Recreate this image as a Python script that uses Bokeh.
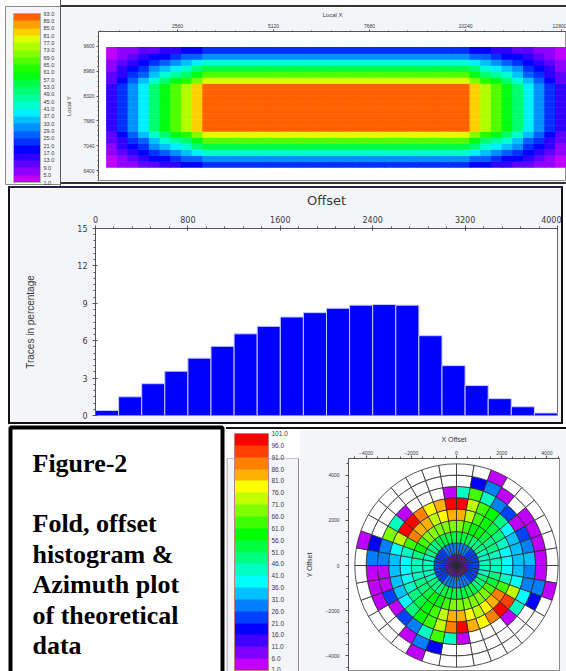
import math
from bokeh.plotting import figure
from bokeh.models import (Range1d, FixedTicker, ColorBar, LinearColorMapper,
                          PrintfTickFormatter, Div, ColumnDataSource, AllLabels)
from bokeh.layouts import row, column
from bokeh.embed import file_html
from bokeh.resources import INLINE
from bokeh.core.properties import value

# ---------------- data ----------------
# Fold map (top panel)
fold_ticks = [1.0, 5.0, 9.0, 13.0, 17.0, 21.0, 25.0, 29.0, 33.0, 37.0, 41.0, 45.0,
              49.0, 53.0, 57.0, 61.0, 65.0, 69.0, 73.0, 77.0, 81.0, 85.0, 89.0, 93.0]
fold_palette = ["#c000ff", "#9000ff", "#6000ff", "#3000ff", "#0000ff", "#0030ff",
                "#0060ff", "#0090ff", "#00c0ff", "#00f0ff", "#00ffd0", "#00ffa0",
                "#00ff70", "#00ff40", "#00ff10", "#20ff00", "#50ff00", "#80ff00",
                "#b0ff00", "#e0ff00", "#ffd000", "#ffa000", "#ff6000"]
fold_max = 93.0
inline_taper_pct = [15, 24, 33, 43, 53, 63, 72, 80, 89] + [100] * 25 + [89, 80, 72, 63, 53, 43, 33, 24, 15]
xline_taper_pct = [25, 35, 47, 60, 71, 86] + [100] * 8 + [86, 71, 60, 47, 35, 25]
local_x_ticks = [2560, 5120, 7680, 10240, 12800]
local_y_ticks = [6400, 7040, 7680, 8320, 8960, 9600]

# Offset histogram (middle panel)
offset_bin_start = [0, 200, 400, 600, 800, 1000, 1200, 1400, 1600, 1800,
                    2000, 2200, 2400, 2600, 2800, 3000, 3200, 3400, 3600, 3800]
traces_pct = [0.4, 1.5, 2.55, 3.55, 4.6, 5.55, 6.55, 7.15, 7.9, 8.25,
              8.6, 8.85, 8.9, 8.85, 6.4, 4.0, 2.4, 1.35, 0.7, 0.2]
offset_ticks = [0, 800, 1600, 2400, 3200, 4000]
pct_ticks = [0, 3, 6, 9, 12, 15]

# Azimuth (rose) plot (bottom right)
az_ticks = [1.0, 6.0, 11.0, 16.0, 21.0, 26.0, 31.0, 36.0, 41.0, 46.0, 51.0,
            56.0, 61.0, 66.0, 71.0, 76.0, 81.0, 86.0, 91.0, 96.0, 101.0]
az_palette = ["#c000ff", "#8000ff", "#4000ff", "#0000ff", "#0040ff", "#0080ff",
              "#00c0ff", "#00ffff", "#00ffc0", "#00ff80", "#00ff40", "#00ff00",
              "#40ff00", "#80ff00", "#c0ff00", "#ffff00", "#ffb000", "#ff8000",
              "#ff4000", "#ff0000"]
ring_edges = [0, 500, 1000, 1500, 2000, 2500, 3000, 3500, 4000, 4500]
rose_ticks = [-4000, -2000, 0, 2000, 4000]
level_codes = "0123456789ABCDEFGHIJ"
# one string per ring (inner -> outer), one character per 10 deg sector clockwise from north
rose_rings = [
    "111111111111111111111111111111111111",
    "555544444444445555555544444444445555",
    "AAA99988888999AAAAAAA99988888999AAAA",
    "DCBBA998889ACDDDDDDCBBA998889BCDDDDD",
    "GECBA987778CHGFEFGGECBA987778CHGGEFG",
    "JECB9766667EIJHFGJHECB9766667EJJHFGJ",
    "8C854045655780...08C854040055D80...0",
    ".350.0000053.......350..00053.......",
    "..0.......0.........0.......0.......",
]

PANEL = "#f3f5f9"
AXC = "#555555"
LBL = "#3a3a3a"


def strip(w, h, color):
    return Div(text="", width=w, height=h, margin=0,
               styles={"background-color": color, "overflow": "hidden"})


def blank(w, h):
    p = figure(width=w, height=h, x_range=Range1d(0, w), y_range=Range1d(h, 0),
               x_axis_type=None, y_axis_type=None, output_backend="svg",
               toolbar_location=None, min_border=0)
    p.grid.visible = False
    p.outline_line_color = None
    p.background_fill_color = "white"
    p.border_fill_color = "white"
    return p


def style_axes(p, tick_font, lab_font):
    for ax in p.axis:
        ax.axis_line_color = AXC
        ax.major_tick_line_color = AXC
        ax.minor_tick_line_color = AXC
        ax.major_label_text_color = LBL
        ax.major_label_text_font = "Liberation Sans"
        ax.major_label_text_font_size = tick_font
        ax.axis_label_text_font = "Liberation Sans"
        ax.axis_label_text_font_style = "normal"
        ax.axis_label_text_font_size = lab_font
        ax.axis_label_text_color = LBL


# ---------------- top: fold colorbar ----------------
cb1 = blank(60, 186)
cb1.quad(left=5, right=60, top=6, bottom=184, fill_color=PANEL, line_color="#8c8c8c")
fold_mapper = LinearColorMapper(palette=fold_palette, low=fold_ticks[0], high=fold_ticks[-1])
cbar1 = ColorBar(color_mapper=fold_mapper, ticker=FixedTicker(ticks=fold_ticks),
                 formatter=PrintfTickFormatter(format="%.1f"),
                 major_label_policy=AllLabels(),
                 location=(13, 4), width=27, height=169, padding=0, label_standoff=3,
                 major_label_text_font="Liberation Sans", major_label_text_font_size="5.5px",
                 major_label_text_color=LBL, major_tick_line_color=None,
                 minor_tick_line_color=None, bar_line_color="#b0b0b0",
                 border_line_color=None, background_fill_color=None)
cb1.add_layout(cbar1)

# ---------------- top: fold map ----------------
pm = figure(width=505, height=175, x_range=Range1d(453, 12933), y_range=Range1d(6142, 9987),
            x_axis_location="above", output_backend="svg", toolbar_location=None,
            min_border_left=37, min_border_right=0, min_border_top=24, min_border_bottom=2)
pm.grid.visible = False
pm.background_fill_color = "white"
pm.border_fill_color = PANEL
pm.outline_line_color = "#8c8c8c"
cell_x0, cell_dx = 665.0, 285.0
cell_y0, cell_dy = 6477.0, 155.0
xs, ys, cols = [], [], []
for j, fy in enumerate(xline_taper_pct):
    for i, fx in enumerate(inline_taper_pct):
        fold = fold_max * fx * fy / 10000.0
        k = int((fold - fold_ticks[0]) // 4)
        k = max(0, min(len(fold_palette) - 1, k))
        xs.append(cell_x0 + (i + 0.5) * cell_dx)
        ys.append(cell_y0 + (j + 0.5) * cell_dy)
        cols.append(fold_palette[k])
src_map = ColumnDataSource(dict(x=xs, y=ys, c=cols))
pm.rect(x="x", y="y", width=cell_dx * 1.06, height=cell_dy * 1.1, fill_color="c",
        line_color=None, source=src_map)
pm.xaxis.ticker = FixedTicker(ticks=local_x_ticks,
                              minor_ticks=[512 * n for n in range(1, 26)])
pm.yaxis.ticker = FixedTicker(ticks=local_y_ticks,
                              minor_ticks=[6400 + 128 * n for n in range(-2, 28)])
pm.xaxis.axis_label = "Local X"
pm.yaxis.axis_label = "Local Y"
style_axes(pm, "5px", "6px")
for ax in pm.axis:
    ax.major_tick_out = 2
    ax.major_tick_in = 0
    ax.minor_tick_out = 1
    ax.minor_tick_in = 0
    ax.major_label_standoff = 2
    ax.axis_label_standoff = 3
pm.yaxis.axis_label_standoff = 8

top = row(cb1, strip(1, 186, "#555555"),
          column(strip(505, 5, "white"), strip(505, 2, "#333333"), pm,
                 strip(505, 2, "#333333"), strip(505, 2, "white")))

# ---------------- middle: offset histogram ----------------
ph = figure(width=551, height=234, x_range=Range1d(0, 4000), y_range=Range1d(0, 15),
            x_axis_location="above", output_backend="svg", toolbar_location=None,
            min_border_left=85, min_border_right=4, min_border_top=40, min_border_bottom=7)
ph.grid.visible = False
ph.background_fill_color = "white"
ph.border_fill_color = PANEL
ph.outline_line_color = "#6a6a6a"
bin_w = offset_bin_start[1] - offset_bin_start[0]
ph.quad(left=offset_bin_start, right=[b + bin_w for b in offset_bin_start],
        bottom=0, top=traces_pct, fill_color="#0000ff", line_color="#c8c8ff", line_width=1)
ph.xaxis.ticker = FixedTicker(ticks=offset_ticks, minor_ticks=[160 * n for n in range(0, 26)])
ph.yaxis.ticker = FixedTicker(ticks=pct_ticks, minor_ticks=[0.5 * n for n in range(0, 31)])
ph.xaxis.axis_label = "Offset"
ph.yaxis.axis_label = "Traces in percentage"
style_axes(ph, "8px", "10px")
ph.xaxis.axis_label_text_font = "DejaVu Sans"
ph.xaxis.axis_label_text_font_size = "13px"
ph.xaxis.major_label_text_font = "DejaVu Sans"
ph.yaxis.major_label_text_font = "DejaVu Sans"
for ax in ph.axis:
    ax.major_tick_out = 3
    ax.major_tick_in = 2
    ax.minor_tick_out = 2
    ax.minor_tick_in = 0
ph.xaxis.major_label_standoff = 3
ph.xaxis.axis_label_standoff = 5
ph.yaxis.major_label_standoff = 5
ph.yaxis.axis_label_standoff = 38

mid = row(strip(8, 238, "white"),
          column(strip(555, 2, "#2b1d4a"),
                 row(strip(2, 234, "#111111"), ph, strip(2, 234, "#111111")),
                 strip(555, 2, "#111111")),
          strip(3, 238, "white"))

# ---------------- bottom left: caption box ----------------
pt = blank(226, 247)
pt.quad(left=10, right=222, top=3, bottom=252, fill_color=None, line_color="black", line_width=4)
pt.text(x=[32], y=[39], text=["Figure-2"], text_font=value("Liberation Serif"),
        text_font_style="bold", text_font_size="26px", text_baseline="alphabetic",
        text_color="black")
caption_lines = ["Fold, offset", "histogram &", "Azimuth plot", "of theoretical", "data"]
pt.text(x=[32] * 5, y=[99 + 30.5 * n for n in range(5)], text=caption_lines,
        text_font=value("Liberation Serif"), text_font_style="bold",
        text_font_size="26px", text_baseline="alphabetic", text_color="black")

# ---------------- bottom: azimuth colorbar ----------------
cb2 = blank(74, 242)
cb2.quad(left=0.5, right=72, top=0, bottom=242, fill_color=PANEL, line_color="#8c8c8c")
az_mapper = LinearColorMapper(palette=az_palette, low=az_ticks[0], high=az_ticks[-1])
cbar2 = ColorBar(color_mapper=az_mapper, ticker=FixedTicker(ticks=az_ticks),
                 formatter=PrintfTickFormatter(format="%.1f"),
                 major_label_policy=AllLabels(),
                 location=(8, 1), width=34, height=237, padding=0, label_standoff=3,
                 major_label_text_font="Liberation Sans", major_label_text_font_size="6.5px",
                 major_label_text_color=LBL, major_tick_line_color=None,
                 minor_tick_line_color=None, bar_line_color="#c08080",
                 border_line_color=None, background_fill_color=None)
cb2.add_layout(cbar2)

# ---------------- bottom: rose plot ----------------
pr = figure(width=266, height=242, x_range=Range1d(-4779, 4558), y_range=Range1d(-4690, 4735),
            x_axis_location="above", output_backend="svg", toolbar_location=None,
            min_border_left=48, min_border_right=7, min_border_top=29, min_border_bottom=0)
pr.grid.visible = False
pr.background_fill_color = "white"
pr.border_fill_color = PANEL
pr.outline_line_color = "#8c8c8c"
ri, ro, a0, a1, wc = [], [], [], [], []
for r, ring in enumerate(rose_rings):
    for s, ch in enumerate(ring):
        ri.append(ring_edges[r])
        ro.append(ring_edges[r + 1])
        a0.append(math.radians(90 - 10 * (s + 1)))
        a1.append(math.radians(90 - 10 * s))
        wc.append("white" if ch == "." else az_palette[level_codes.index(ch)])
src_rose = ColumnDataSource(dict(ri=ri, ro=ro, a0=a0, a1=a1, c=wc))
pr.annular_wedge(x=0, y=0, inner_radius="ri", outer_radius="ro", start_angle="a0",
                 end_angle="a1", fill_color="c", line_color="#2a2a2a", line_width=0.8,
                 source=src_rose)
pr.xaxis.ticker = FixedTicker(ticks=rose_ticks, minor_ticks=[500 * n for n in range(-9, 10)])
pr.yaxis.ticker = FixedTicker(ticks=rose_ticks, minor_ticks=[500 * n for n in range(-9, 10)])
pr.xaxis.axis_label = "X Offset"
pr.yaxis.axis_label = "Y Offset"
style_axes(pr, "5px", "7px")
for ax in pr.axis:
    ax.major_tick_out = 3
    ax.major_tick_in = 0
    ax.minor_tick_out = 2
    ax.minor_tick_in = 0
pr.xaxis.major_label_standoff = 1
pr.xaxis.axis_label_standoff = 5
pr.yaxis.major_label_standoff = 6
pr.yaxis.axis_label_standoff = 9

bot = row(pt, column(strip(340, 3, "white"), strip(340, 2, "#111111"), row(cb2, pr)))

layout = column(top, mid, bot)
open("out.html", "w").write(file_html(layout, INLINE))
